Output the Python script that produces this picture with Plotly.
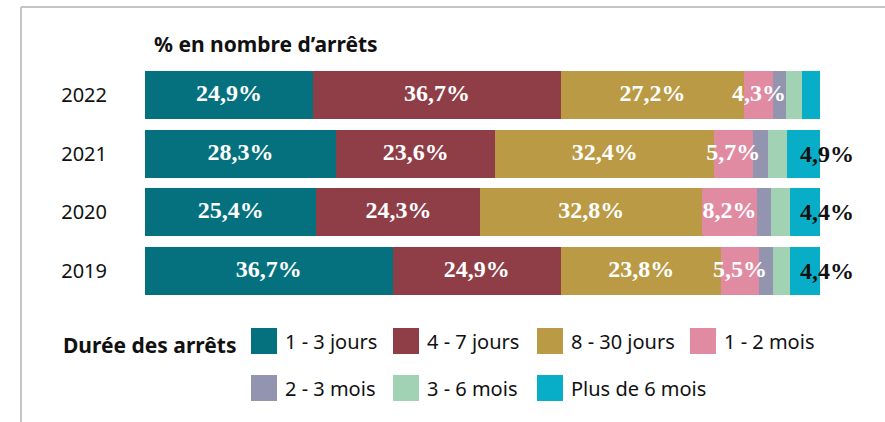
import plotly.graph_objects as go

years = ["2022", "2021", "2020", "2019"]
series = ["1 - 3 jours", "4 - 7 jours", "8 - 30 jours", "1 - 2 mois",
          "2 - 3 mois", "3 - 6 mois", "Plus de 6 mois"]
v_1_3j = [24.9, 28.3, 25.4, 36.7]
v_4_7j = [36.7, 23.6, 24.3, 24.9]
v_8_30j = [27.2, 32.4, 32.8, 23.8]
v_1_2m = [4.3, 5.7, 8.2, 5.5]
v_2_3m = [1.9, 2.3, 2.1, 2.2]
v_3_6m = [2.3, 2.8, 2.8, 2.5]
v_6m = [2.7, 4.9, 4.4, 4.4]
values = [v_1_3j, v_4_7j, v_8_30j, v_1_2m, v_2_3m, v_3_6m, v_6m]
inside_labelled = [True, True, True, True, False, False, False]
outside_labelled = [False, True, True, True]  # last series, per year
colors = ["#06717E", "#8F3E47", "#BA9A44", "#E18BA3", "#9294B0", "#A1D2B4", "#08AEC7"]

W, H = 885, 422
L, R, T, B = 145, 65, 66, 122
pw, ph = W - L - R, H - T - B

def fmt(v):
    return f"{v:.1f}".replace(".", ",") + "%"

SERIF = "Liberation Serif"
SANS = "Noto Sans"

cat_order = years[::-1]

fig = go.Figure()
cum = [0.0] * len(years)
lab_x, lab_y, lab_t = [], [], []
for name, vals, col, lab in zip(series, values, colors, inside_labelled):
    fig.add_trace(go.Bar(
        y=years, x=vals, name=name, orientation="h",
        marker=dict(color=col, line=dict(width=0)),
        hoverinfo="skip", showlegend=False,
    ))
    for j, v in enumerate(vals):
        if lab:
            lab_x.append(cum[j] + v / 2)
            lab_y.append(years[j])
            lab_t.append(fmt(v))
        cum[j] += v

# inside labels drawn on top of all bars
fig.add_trace(go.Scatter(
    x=lab_x, y=lab_y, text=lab_t, mode="text", textposition="middle center",
    textfont=dict(family=SERIF, size=24, color="white", weight="bold"),
    hoverinfo="skip", showlegend=False, cliponaxis=False,
))

# outside labels for last series
annotations = []
for yr, v, tot, show in zip(years, v_6m, cum, outside_labelled):
    if show:
        annotations.append(dict(
            x=min(round(tot, 6), 100), y=cat_order.index(yr), xref="x", yref="y",
            text=fmt(v), showarrow=False, xanchor="center", xshift=7,
            font=dict(family=SERIF, size=24, color="#111111", weight="bold")))

def px_x(x):
    return (x - L) / pw

def px_y(y):
    return (H - B - y) / ph

# title
annotations.append(dict(
    x=px_x(152), y=px_y(44), xref="paper", yref="paper", text="<b>% en nombre d’arrêts</b>",
    showarrow=False, xanchor="left", yanchor="middle",
    font=dict(family=SANS, size=21, color="#111111")))

# legend (manual)
annotations.append(dict(
    x=px_x(61), y=px_y(345), xref="paper", yref="paper", text="<b>Durée des arrêts</b>",
    showarrow=False, xanchor="left", yanchor="middle",
    font=dict(family=SANS, size=21, color="#111111")))

col_x = [251, 393, 537, 690]
row_y = [341, 388]
shapes = []
for i, (name, col) in enumerate(zip(series, colors)):
    r, c = (0, i) if i < 4 else (1, i - 4)
    x0 = col_x[c]
    yc = row_y[r]
    shapes.append(dict(type="rect", xref="paper", yref="paper",
                       x0=px_x(x0), x1=px_x(x0 + 26), y0=px_y(yc + 13), y1=px_y(yc - 13),
                       fillcolor=col, line=dict(width=0)))
    annotations.append(dict(
        x=px_x(x0 + 32), y=px_y(yc), xref="paper", yref="paper", text=name,
        showarrow=False, xanchor="left", yanchor="middle",
        font=dict(family=SANS, size=20, color="#111111")))

# frame lines
shapes.append(dict(type="line", xref="paper", yref="paper",
                   x0=px_x(21), x1=px_x(885), y0=px_y(7), y1=px_y(7),
                   line=dict(color="#C4C4C4", width=2)))
shapes.append(dict(type="line", xref="paper", yref="paper",
                   x0=px_x(21), x1=px_x(21), y0=px_y(7), y1=px_y(422),
                   line=dict(color="#C4C4C4", width=2)))

fig.update_layout(
    width=W, height=H, barmode="stack", bargap=0.18,
    margin=dict(l=L, r=R, t=T, b=B),
    plot_bgcolor="white", paper_bgcolor="white",
    xaxis=dict(range=[0, 100], visible=False, fixedrange=True),
    yaxis=dict(type="category", categoryorder="array", categoryarray=cat_order,
               range=[-0.5, len(years) - 0.5],
               showgrid=False, zeroline=False, showline=False,
               ticks="outside", ticklen=33, tickcolor="rgba(0,0,0,0)",
               tickfont=dict(family=SANS, size=20, color="#111111")),
    annotations=annotations, shapes=shapes,
)

fig.write_html("out.html")
